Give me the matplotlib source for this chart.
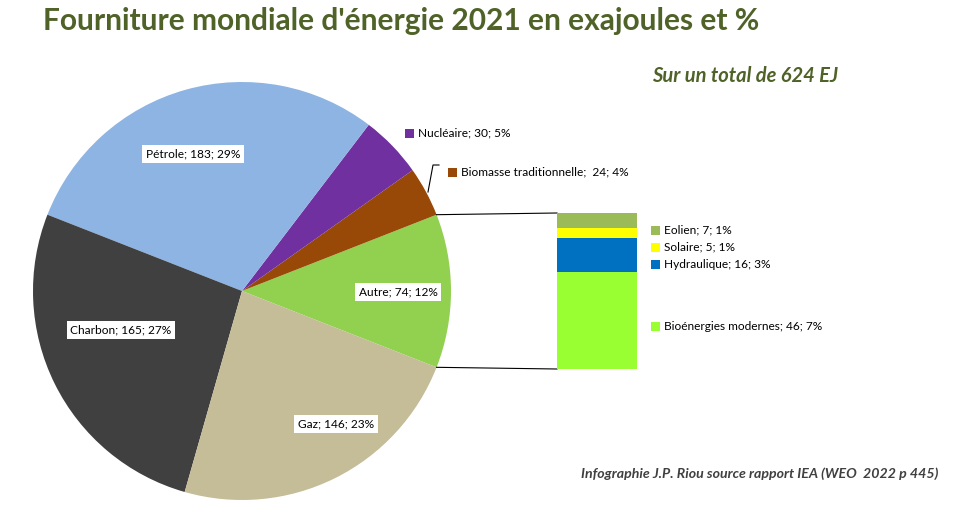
import matplotlib.pyplot as plt
import numpy as np

# pie data, counter-clockwise from the right
pie_names = ['Autre', 'Biomasse traditionnelle', 'Nucléaire', 'Pétrole', 'Charbon', 'Gaz']
pie_values = [74, 24, 30, 183, 165, 146]
pie_labels = ['Autre; 74; 12%', 'Biomasse traditionnelle;  24; 4%', 'Nucléaire; 30; 5%',
              'Pétrole; 183; 29%', 'Charbon; 165; 27%', 'Gaz; 146; 23%']
pie_colors = ['#92D050', '#984807', '#7030A0', '#8EB4E3', '#404040', '#C4BD97']

# breakdown of "Autre", bottom to top
bar_names = ['Bioénergies modernes', 'Hydraulique', 'Solaire', 'Eolien']
bar_values = [46, 16, 5, 7]
bar_labels = ['Bioénergies modernes; 46; 7%', 'Hydraulique; 16; 3%', 'Solaire; 5; 1%', 'Eolien; 7; 1%']
bar_colors = ['#99FF33', '#0070C0', '#FFFF00', '#9BBB59']

W, H = 969, 505
font = 'Lato'
green = '#4F6228'

fig = plt.figure(figsize=(W / 100, H / 100), dpi=100)
ax = fig.add_axes([0, 0, 1, 1])

cx, cy, r = 242, H - 291, 209
half = pie_values[0] / sum(pie_values) * 360 / 2
wedges, _ = ax.pie(pie_values, colors=pie_colors, startangle=-half, counterclock=True,
                   center=(cx, cy), radius=r, frame=True,
                   wedgeprops=dict(linewidth=0))
ax.set_xlim(0, W)
ax.set_ylim(0, H)
ax.set_aspect('equal')
ax.axis('off')

# labels inside the pie (white boxes)
inside = {'Autre': (398, 292), 'Pétrole': (193, 154), 'Charbon': (121, 330), 'Gaz': (336, 424)}
for name, lab in zip(pie_names, pie_labels):
    if name in inside:
        x, y = inside[name]
        ax.text(x, H - y, lab, ha='center', va='center', fontsize=8.6, family=font,
                bbox=dict(boxstyle='square,pad=0.3', fc='white', ec='none'))

# outside labels with small squares
def legend_item(x, y, color, text):
    ax.add_patch(plt.Rectangle((x, H - y - 4.5), 9, 9, color=color, lw=0))
    ax.text(x + 13, H - y, text, ha='left', va='center', fontsize=8.6, family=font)

legend_item(405, 133, pie_colors[2], pie_labels[2])
legend_item(448, 172, pie_colors[1], pie_labels[1])
ax.plot([428, 433, 439], [H - 192, H - 165, H - 165], color='black', lw=0.8)

# connectors between "Autre" and the bar
bx0, bx1, by_top, by_bot = 557, 637, 213, 369
t1 = np.deg2rad(wedges[0].theta1)
t2 = np.deg2rad(wedges[0].theta2)
ax.plot([cx + r * np.cos(t2), bx0], [cy + r * np.sin(t2), H - by_top], color='black', lw=0.8)
ax.plot([cx + r * np.cos(t1), bx0], [cy + r * np.sin(t1), H - by_bot], color='black', lw=0.8)

# stacked bar
ax2 = fig.add_axes([bx0 / W, (H - by_bot) / H, (bx1 - bx0) / W, (by_bot - by_top) / H])
bottom = 0
for v, c in zip(bar_values, bar_colors):
    ax2.bar(0, v, bottom=bottom, width=1, color=c, lw=0)
    bottom += v
ax2.set_xlim(-0.5, 0.5)
ax2.set_ylim(0, sum(bar_values))
ax2.axis('off')

bar_label_y = [326, 264, 247, 230]
for lab, c, y in zip(bar_labels, bar_colors, bar_label_y):
    legend_item(651, y, c, lab)

fig.text(43 / W, 1 - 21 / H, "Fourniture mondiale d'énergie 2021 en exajoules et %",
         ha='left', va='center', fontsize=21.5, fontweight='bold', color=green, family=font)
fig.text(838 / W, 1 - 76 / H, 'Sur un total de 624 EJ', ha='right', va='center',
         fontsize=14.5, fontweight='bold', style='italic', color=green, family=font)
fig.text(938 / W, 1 - 474 / H, 'Infographie J.P. Riou source rapport IEA (WEO  2022 p 445)',
         ha='right', va='center', fontsize=10.2, fontweight='bold', style='italic',
         color='#404040', family=font)

fig.savefig('out.png', dpi=100)
